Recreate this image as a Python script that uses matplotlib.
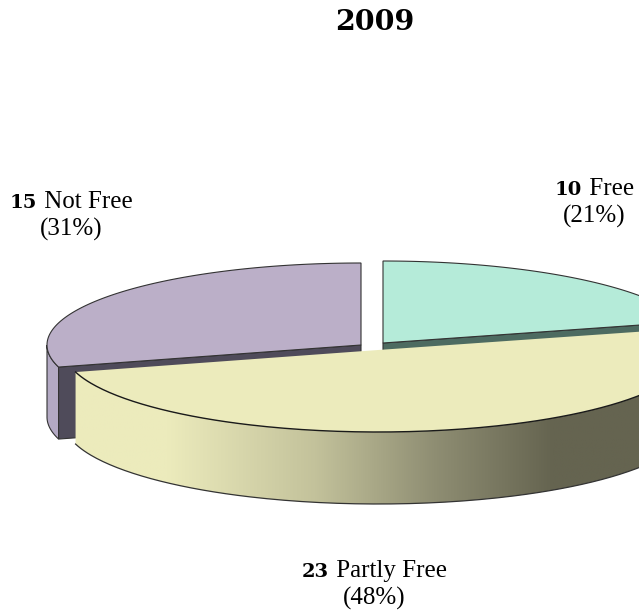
import numpy as np
import matplotlib
matplotlib.use('Agg')
import matplotlib.pyplot as plt
from matplotlib.colors import LinearSegmentedColormap
from matplotlib.patches import Polygon

title = '2009'
names = ['Free', 'Partly Free', 'Not Free']
counts = [10, 23, 15]
percents = [21, 48, 31]

top_colors = ['#b5ebd9', '#ecebbc', '#bbafc8']
cut_colors = ['#4d6b61', '#5e5d4b', '#4f4b5a']

# the 3d view squeezes the back left a bit, so slices are not exactly to scale
view_stretch = [1.0, 1.04, 0.94]
# where each slice centre sits after being pulled out of the pie
centers = [(383, 343), (378, 350), (361, 345)]
rx, ry = 314, 82
depth = 72
edge = '#333333'

fig = plt.figure(figsize=(6.39, 6.12), dpi=100)
ax = fig.add_axes([0, 0, 1, 1])
ax.set_axis_off()


def arc(center, a0, a1, drop=0):
    t = np.radians(np.linspace(a0, a1, 200))
    return np.column_stack([center[0] + rx * np.cos(t),
                            center[1] - ry * np.sin(t) + drop])


# slice angles, going clockwise from the top
spans = [c / sum(counts) * 360 * s for c, s in zip(counts, view_stretch)]
green_end = 90 - spans[0]
yellow_end = green_end - spans[1]
purple_end = yellow_end + 360


def cut_face(i, angle):
    c = centers[i]
    p = arc(c, angle, angle, 0)[0]
    pts = [c, p, (p[0], p[1] + depth), (c[0], c[1] + depth)]
    ax.add_patch(Polygon(pts, fc=cut_colors[i], ec=edge, lw=0.8, zorder=2))


def side_wall(i, a0, a1):
    top = arc(centers[i], a0, a1)
    bottom = arc(centers[i], a1, a0, depth)
    return np.vstack([top, bottom])


def wedge_top(i, a0, a1):
    pts = np.vstack([[centers[i]], arc(centers[i], a0, a1)])
    return Polygon(pts, fc=top_colors[i], ec=edge, lw=0.8, zorder=3)


# purple slice at the back
ax.add_patch(Polygon(side_wall(2, 180, purple_end), fc='#b3a9c3', ec=edge, lw=0.8, zorder=1))
cut_face(2, purple_end)
ax.add_patch(wedge_top(2, 90, purple_end))

# green slice, its outer wall is off the canvas
cut_face(0, green_end)
ax.add_patch(wedge_top(0, green_end, 90))

# yellow slice with the shaded wall
cmap = LinearSegmentedColormap.from_list('wall', [(0.0, '#ecebbc'), (0.17, '#ecebbc'),
                                                  (0.43, '#c3c29b'), (0.64, '#8f8e73'),
                                                  (0.85, '#656450'), (1.0, '#656450')])
wall = Polygon(side_wall(1, yellow_end, 0), fc='none', ec='none', zorder=4)
ax.add_patch(wall)
img = ax.imshow(np.linspace(0, 1, 256).reshape(1, -1), cmap=cmap, extent=(70, 639, 510, 370),
                aspect='auto', zorder=4)
img.set_clip_path(wall)
front = arc(centers[1], yellow_end, 0)
back = arc(centers[1], yellow_end, 0, depth)
ax.plot(back[:, 0], back[:, 1], color=edge, lw=0.9, zorder=5)
ax.add_patch(Polygon(np.vstack([[centers[1]], arc(centers[1], yellow_end, green_end)]),
                     fc=top_colors[1], ec='none', zorder=6))
ax.plot(front[:, 0], front[:, 1], color='#1a1a1a', lw=1.0, zorder=7)

ax.set_xlim(0, 639)
ax.set_ylim(612, 0)

serif = 'Liberation Serif'
bold_font = {'family': 'DejaVu Serif', 'weight': 'bold', 'size': 14}
ax.text(375, 22, title, ha='center', va='center', color='black', zorder=10,
        family='DejaVu Serif', weight='bold', size=20.5)


def add_label(x, y, count, name, pct):
    # bold count and plain name sit on one line, so measure them first
    r = fig.canvas.get_renderer()
    a = ax.text(0, y, str(count), va='baseline', zorder=10, **bold_font)
    b = ax.text(0, y, ' ' + name, va='baseline', family=serif, size=18, zorder=10)
    wa = a.get_window_extent(r).width
    wb = b.get_window_extent(r).width
    left = x - (wa + wb) / 2
    a.set_x(left)
    b.set_x(left + wa + 1)
    ax.text(x, y + 28, f'({pct}%)', ha='center', va='baseline', family=serif, size=18, zorder=10)


add_label(594, 195, counts[0], names[0], percents[0])
add_label(374, 577, counts[1], names[1], percents[1])
add_label(71, 208, counts[2], names[2], percents[2])

fig.savefig('out.png', dpi=100)
